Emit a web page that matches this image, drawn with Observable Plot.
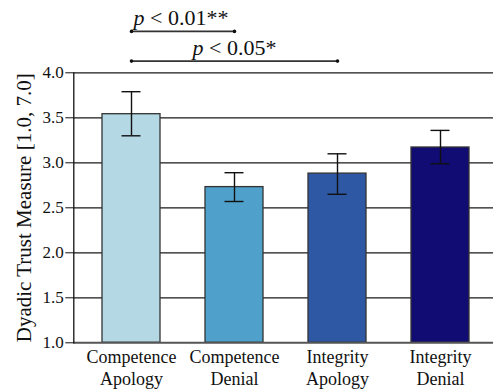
<!DOCTYPE html>
<html><head><meta charset="utf-8">
<script src="https://cdn.jsdelivr.net/npm/d3@7"></script>
<script src="https://cdn.jsdelivr.net/npm/@observablehq/plot@0.6"></script>
<style>body{margin:0;background:#fff}</style>
</head><body><div id="chart"></div>
<script>
const categories = ["Competence Apology", "Competence Denial", "Integrity Apology", "Integrity Denial"];
const means = [3.54, 2.73, 2.88, 3.17];
const errLow = [3.30, 2.57, 2.65, 2.99];
const errHigh = [3.79, 2.89, 3.10, 3.36];
const colors = ["#b4d8e4", "#4fa1cb", "#2e58a4", "#110b74"];
const yTicks = [1.0, 1.5, 2.0, 2.5, 3.0, 3.5, 4.0];
const yDomain = [1.0, 4.0];
const sigFrom = ["Competence Apology", "Competence Apology"];
const sigTo = ["Competence Denial", "Integrity Apology"];
const sigLevel = [4.46, 4.13];
const sigLabels = ["p < 0.01**", "p < 0.05*"];
const yLabel = "Dyadic Trust Measure [1.0, 7.0]";

const bars = categories.map((c, i) => ({cat: c, mean: means[i], lo: errLow[i], hi: errHigh[i], color: colors[i]}));
const sig = sigLabels.map((t, i) => ({from: sigFrom[i], to: sigTo[i], y: sigLevel[i], label: t}));
const ends = sig.flatMap(s => [{cat: s.from, y: s.y}, {cat: s.to, y: s.y}]);

const font = "'Liberation Serif', 'Times New Roman', serif";

const plot = Plot.plot({
  width: 493,
  height: 391,
  marginLeft: 73.3,
  marginRight: 0,
  marginTop: 72.3,
  marginBottom: 48.7,
  style: {fontFamily: font, background: "#fff", color: "#111"},
  x: {domain: categories, range: [73.3, 497.1], paddingInner: 0.44, paddingOuter: 0.263, align: 0.5},
  y: {domain: yDomain},
  marks: [
    Plot.ruleY(yTicks.slice(1), {stroke: "#1a1a1a", strokeWidth: 1.3}),
    Plot.barY(bars, {x: "cat", y1: yDomain[0], y2: "mean", fill: "color", stroke: "#333", strokeWidth: 1.3}),
    Plot.ruleY([yDomain[0]], {stroke: "#555", strokeWidth: 2}),
    Plot.ruleX(bars, {x: "cat", y1: "lo", y2: "hi", stroke: "#111", strokeWidth: 1.4}),
    Plot.tickY(bars, {x: "cat", y: "lo", stroke: "#111", strokeWidth: 1.4, inset: 19.5}),
    Plot.tickY(bars, {x: "cat", y: "hi", stroke: "#111", strokeWidth: 1.4, inset: 19.5}),
    Plot.frame({anchor: "left", stroke: "#111", strokeWidth: 1.3}),
    Plot.axisY({ticks: yTicks, tickFormat: d3.format(".1f"), tickSize: 8, tickPadding: 2, fontSize: 17, fontFamily: font, label: null, stroke: "#111"}),
    Plot.axisX({tickSize: 0, tickPadding: 5, fontSize: 18, fontFamily: font, lineHeight: 1.2, label: null, tickFormat: d => d.replace(" ", "\n"), fill: "#111"}),
    Plot.text([yLabel], {text: d => d, frameAnchor: "left", textAnchor: "middle", rotate: -90, dx: -43, lineAnchor: "bottom", fontSize: 21, fontFamily: font, fill: "#111"}),
    Plot.link(sig, {x1: "from", x2: "to", y1: "y", y2: "y", stroke: "#333", strokeWidth: 1.6}),
    Plot.dot(ends, {x: "cat", y: "y", r: 1.8, fill: "#111"}),
    Plot.text(sig.slice(0, 1), {x: "from", y: "y", text: "label", textAnchor: "start", dx: 2, dy: -6, lineAnchor: "bottom", fontSize: 22, fontFamily: font, fill: "#111"}),
    Plot.text(sig.slice(1), {x: "from", y: "y", text: "label", textAnchor: "start", dx: 61, dy: -6, lineAnchor: "bottom", fontSize: 22, fontFamily: font, fill: "#111"})
  ]
});

plot.querySelectorAll("text").forEach(el => {
  const t = el.textContent;
  if (t.startsWith("p <") && el.children.length === 0) {
    el.textContent = "";
    const ns = "http://www.w3.org/2000/svg";
    const a = document.createElementNS(ns, "tspan");
    a.setAttribute("font-style", "italic");
    a.textContent = "p";
    const b = document.createElementNS(ns, "tspan");
    b.textContent = t.slice(1);
    el.appendChild(a);
    el.appendChild(b);
  }
});

document.getElementById("chart").appendChild(plot);
</script>
</body></html>
